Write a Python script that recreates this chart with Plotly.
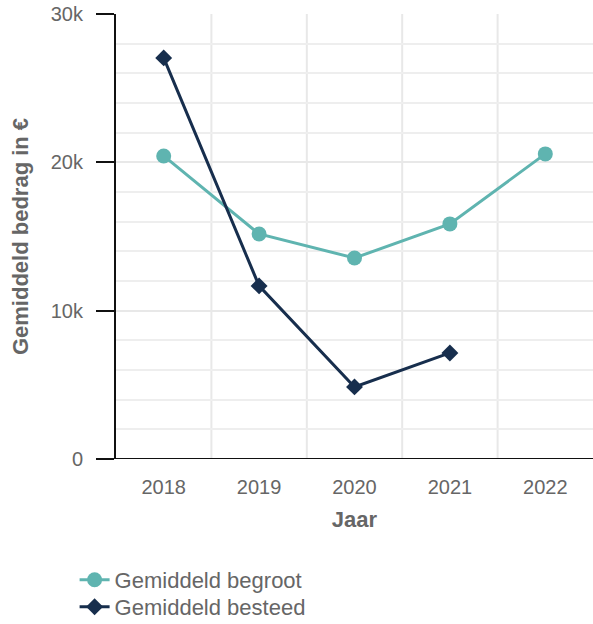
import plotly.graph_objects as go

years = ["2018", "2019", "2020", "2021", "2022"]
begroot = [20430, 15170, 13550, 15850, 20570]
besteed_years = ["2018", "2019", "2020", "2021"]
besteed = [27040, 11670, 4860, 7150]
y_ticks = [0, 10000, 20000, 30000]
y_ticklabels = ["0", "10k", "20k", "30k"]

teal = "#5fb4b0"
navy = "#172e4d"
grey = "#666666"

fig = go.Figure()
fig.add_trace(go.Scatter(
    x=years, y=begroot, name="Gemiddeld begroot", mode="lines+markers",
    line=dict(color=teal, width=3),
    marker=dict(symbol="circle", size=15, color=teal),
    legend="legend",
))
fig.add_trace(go.Scatter(
    x=besteed_years, y=besteed, name="Gemiddeld besteed", mode="lines+markers",
    line=dict(color=navy, width=3),
    marker=dict(symbol="diamond", size=13, color=navy),
    legend="legend2",
))

# vertical gridlines between categories
for xv in [0.5, 1.5, 2.5, 3.5]:
    fig.add_shape(type="line", xref="x", yref="paper", x0=xv, x1=xv, y0=0, y1=1,
                  line=dict(color="#e8e8e8", width=2), layer="below")

legend_style = dict(x=-0.0868, xanchor="left", yanchor="top",
                    font=dict(size=22, color=grey), itemwidth=30,
                    bgcolor="rgba(0,0,0,0)")

fig.update_layout(
    width=593, height=624,
    margin=dict(l=116, r=0, t=14, b=165, autoexpand=False),
    paper_bgcolor="white", plot_bgcolor="white",
    font=dict(family="Arial, Liberation Sans, sans-serif", size=20, color=grey),
    showlegend=True,
    legend=dict(y=-0.2247, **legend_style),
    legend2=dict(y=-0.2854, **legend_style),
)
fig.update_xaxes(
    type="category", range=[-0.5, 4.5], categoryorder="array", categoryarray=years,
    showgrid=False, showline=False, zeroline=False, ticks="",
    tickfont=dict(size=20, color=grey), ticklabelstandoff=14, automargin=False,
    title=dict(text="<b>Jaar</b>", font=dict(size=22, color=grey), standoff=14),
)
fig.update_yaxes(
    range=[0, 30000], tickvals=y_ticks, ticktext=y_ticklabels,
    showgrid=True, gridcolor="#e8e8e8", gridwidth=2,
    minor=dict(dtick=2000, showgrid=True, gridcolor="#eeeeee", gridwidth=2),
    showline=True, linecolor="#111111", linewidth=2,
    ticks="outside", ticklen=18, tickcolor="#111111", tickwidth=2,
    zeroline=False, automargin=False, ticklabelstandoff=9,
    tickfont=dict(size=20, color=grey),
    title=dict(text="<b>Gemiddeld bedrag in €</b>", font=dict(size=22, color=grey), standoff=16),
)
# bottom axis line (x axis baseline)
fig.add_shape(type="line", xref="paper", yref="y", x0=0, x1=1, y0=0, y1=0,
              line=dict(color="#111111", width=2))

fig.write_html(
    "out.html",
    config={"displayModeBar": False},
    post_script="document.body.style.margin='0';document.body.style.overflow='hidden';",
)
